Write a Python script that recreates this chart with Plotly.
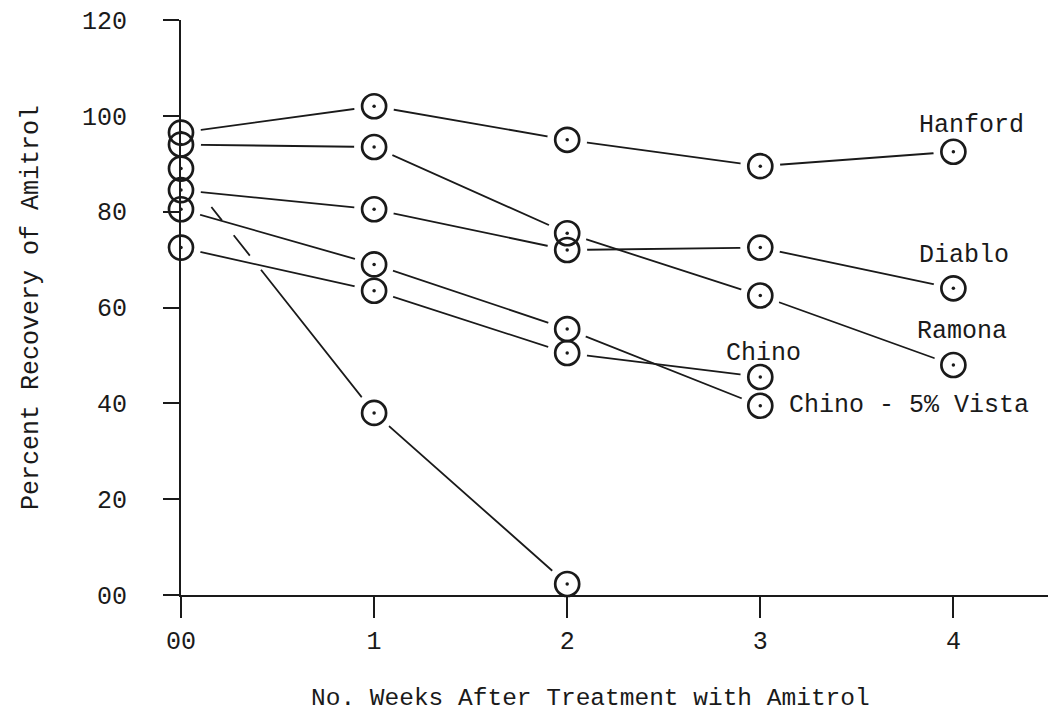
import plotly.graph_objects as go

# Weeks after treatment
weeks = [0, 1, 2, 3, 4]

# Percent recovery of amitrol by soil
hanford = [96.5, 102, 95, 89.5, 92.5]
ramona = [94, 93.5, 75.5, 62.5, 48]
unlabelled = [89, 38, 2.3]
diablo = [84.5, 80.5, 72, 72.5, 64]
chino_vista = [80.5, 69, 55.5, 39.5]
chino = [72.5, 63.5, 50.5, 45.5]

y_ticks = [0, 20, 40, 60, 80, 100, 120]
y_tick_text = ["00", "20", "40", "60", "80", "100", "120"]
x_tick_text = ["00", "1", "2", "3", "4"]

# Curve labels: (text, x, y)
labels = [
    ("Hanford", 3.81, 98.0),
    ("Diablo", 3.81, 70.8),
    ("Ramona", 3.80, 55.0),
    ("Chino", 2.81, 50.5),
    ("Chino - 5% Vista", 3.14, 39.5),
]

FONT = "Liberation Mono, Courier New, monospace"
INK = "#1a1a1a"

series = [
    ("Hanford", hanford, "solid"),
    ("Ramona", ramona, "solid"),
    ("unlabelled", unlabelled, "30px,19px,17px,19px,26px,18px,2000px"),
    ("Diablo", diablo, "solid"),
    ("Chino - 5% Vista", chino_vista, "solid"),
    ("Chino", chino, "solid"),
]

fig = go.Figure()

# connecting lines
for name, vals, dash in series:
    fig.add_trace(go.Scatter(
        x=weeks[:len(vals)], y=vals, mode="lines", name=name,
        line=dict(color=INK, width=1.8, dash=dash),
        cliponaxis=False, showlegend=False, hoverinfo="skip",
    ))

all_x = [w for _, vals, _ in series for w in weeks[:len(vals)]]
all_y = [v for _, vals, _ in series for v in vals]

# white halo so lines stop short of each circle
fig.add_trace(go.Scatter(
    x=all_x, y=all_y, mode="markers",
    marker=dict(size=40, color="white", line=dict(width=0)),
    cliponaxis=False, showlegend=False, hoverinfo="skip",
))

# open circles
fig.add_trace(go.Scatter(
    x=all_x, y=all_y, mode="markers",
    marker=dict(symbol="circle-open", size=24, color=INK,
                line=dict(color=INK, width=2.7)),
    cliponaxis=False, showlegend=False,
))

# centre dots
fig.add_trace(go.Scatter(
    x=all_x, y=all_y, mode="markers",
    marker=dict(symbol="circle", size=3.5, color=INK, line=dict(width=0)),
    cliponaxis=False, showlegend=False, hoverinfo="skip",
))

for text, lx, ly in labels:
    fig.add_annotation(x=lx, y=ly, text=text, showarrow=False,
                       xanchor="left", yanchor="middle",
                       font=dict(family=FONT, size=25, color=INK))

# x-axis title
fig.add_annotation(x=0.472, y=-0.18, xref="paper", yref="paper",
                   text="No. Weeks After Treatment with Amitrol",
                   showarrow=False, xanchor="center", yanchor="middle",
                   font=dict(family=FONT, size=24.5, color=INK))

fig.update_layout(
    width=1048, height=719,
    margin=dict(l=181, r=0, t=20, b=124),
    paper_bgcolor="white", plot_bgcolor="white",
    font=dict(family=FONT, size=25, color=INK),
    showlegend=False,
)

fig.update_xaxes(
    range=[0, 4.49], tickvals=weeks, ticktext=x_tick_text,
    showgrid=False, zeroline=False,
    showline=True, linecolor=INK, linewidth=2,
    ticks="outside", ticklen=21, tickwidth=2, tickcolor=INK,
    ticklabelstandoff=1,
    layer="above traces",
)

fig.update_yaxes(
    range=[0, 120], tickvals=y_ticks, ticktext=y_tick_text,
    showgrid=False, zeroline=False,
    showline=True, linecolor=INK, linewidth=2,
    ticks="outside", ticklen=16, tickwidth=2, tickcolor=INK,
    ticklabelstandoff=31,
    layer="above traces",
    title=dict(text="Percent Recovery of Amitrol", standoff=36,
               font=dict(family=FONT, size=25, color=INK)),
)

fig.write_html("out.html")
